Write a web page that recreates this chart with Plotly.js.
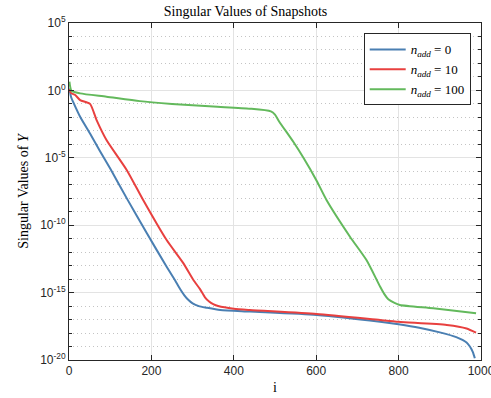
<!DOCTYPE html>
<html><head><meta charset="utf-8">
<script src="https://cdn.plot.ly/plotly-3.0.1.min.js"></script>
<style>html,body{margin:0;padding:0;background:#fff}#chart{width:491px;height:398px}</style>
</head><body><div id="chart"></div>
<script>
// Series: index i and singular values
const blueI = [1,5,10,27,51,75,100,142,189,237,257,270,280,290,300,315,334,367,439,601,755,800,850,900,940,965,973,980,985];
const blueV = [1.4,0.32,0.14,1.1e-2,6.3e-4,3.2e-5,1.6e-6,7.9e-9,2.5e-11,8.3e-14,8.5e-15,1.8e-15,6.3e-16,2.8e-16,1.6e-16,1.0e-16,7.6e-17,5.1e-17,3.9e-17,2.2e-17,6.9e-18,4.5e-18,2.5e-18,1.12e-18,5.0e-19,2.0e-19,1.0e-19,4.0e-20,1.35e-20];
const redI = [1,5,15,27,51,67,91,140,180,237,277,302,318,330,340,350,362,400,439,601,755,800,917,965,988];
const redV = [1.26,0.63,0.46,0.19,0.1,6.3e-3,2.1e-4,1.26e-6,7.4e-9,7.9e-12,1.6e-13,8.5e-15,1.8e-15,4.5e-16,2.2e-16,1.4e-16,1.0e-16,6.3e-17,5.1e-17,2.6e-17,9.3e-18,6.9e-18,4.0e-18,2.2e-18,1.07e-18];
const greenI = [1,6,27,91,172,250,350,439,490,500,510,544,569,601,625,682,722,755,765,775,790,803,884,988];
const greenV = [4.5,0.95,0.6,0.34,0.16,0.1,0.063,0.044,2.8e-2,1.6e-2,5.0e-3,1.6e-4,1.0e-5,2.0e-7,7.4e-9,1.4e-11,2.6e-13,2.8e-15,8.0e-16,3.2e-16,1.7e-16,1.2e-16,6.8e-17,2.95e-17];
const legendNames = ['<i>n</i><sub><i>add</i></sub> = 0','<i>n</i><sub><i>add</i></sub> = 10','<i>n</i><sub><i>add</i></sub> = 100'];
const yTickVals = [1e-20,1e-15,1e-10,1e-5,1,1e5];
const yTickText = ['10<sup>-20</sup>','10<sup>-15</sup>','10<sup>-10</sup>','10<sup>-5</sup>','10<sup>0</sup>','10<sup>5</sup>'];
const xTickVals = [0,200,400,600,800,1000];

const colors = ['#4a7fb2','#e8403f','#63b95c'];
const series = [[blueI,blueV],[redI,redV],[greenI,greenV]];
const traces = series.map((s,k)=>({x:s[0],y:s[1],type:'scatter',mode:'lines',name:legendNames[k],line:{color:colors[k],width:2,shape:'spline',smoothing:0.6}}));

const axisCommon = {showline:true,linecolor:'#262626',linewidth:1,mirror:'ticks',ticks:'inside',ticklen:5,tickcolor:'#262626',
  tickfont:{family:'Liberation Sans, Arial, sans-serif',size:12,color:'#262626'},zeroline:false,gridcolor:'#e3e3e3',gridwidth:1,ticklabeloverflow:'allow'};
const layout = {
  width:491,height:398,margin:{l:69,r:10,t:23,b:38},paper_bgcolor:'#fff',plot_bgcolor:'#fff',
  title:{text:'Singular Values of Snapshots',font:{family:'Liberation Serif, serif',size:14,color:'#000'},x:0.5,xanchor:'center',y:0.972,yanchor:'middle'},
  xaxis:Object.assign({},axisCommon,{range:[0,1000],tickmode:'array',tickvals:xTickVals,
    title:{text:'i',font:{family:'Liberation Serif, serif',size:14,color:'#000'},standoff:4}}),
  yaxis:Object.assign({},axisCommon,{type:'log',range:[-20,5],tickmode:'array',tickvals:yTickVals,ticktext:yTickText,
    title:{text:'Singular Values of <i>Y</i>',font:{family:'Liberation Serif, serif',size:14,color:'#000'},standoff:8},
    minor:{tickmode:'linear',tick0:0,dtick:1,ticks:'inside',ticklen:3,tickcolor:'#262626',showgrid:true,gridcolor:'#c4c4c4',griddash:'1px,3px',gridwidth:1}}),
  legend:{x:0.975,xanchor:'right',y:0.969,yanchor:'top',bgcolor:'#fff',bordercolor:'#262626',borderwidth:1,
    font:{family:'Liberation Serif, serif',size:13,color:'#000'},tracegroupgap:0,itemwidth:36},
  showlegend:true
};
Plotly.newPlot('chart',traces,layout,{displayModeBar:false,staticPlot:true});
</script></body></html>
